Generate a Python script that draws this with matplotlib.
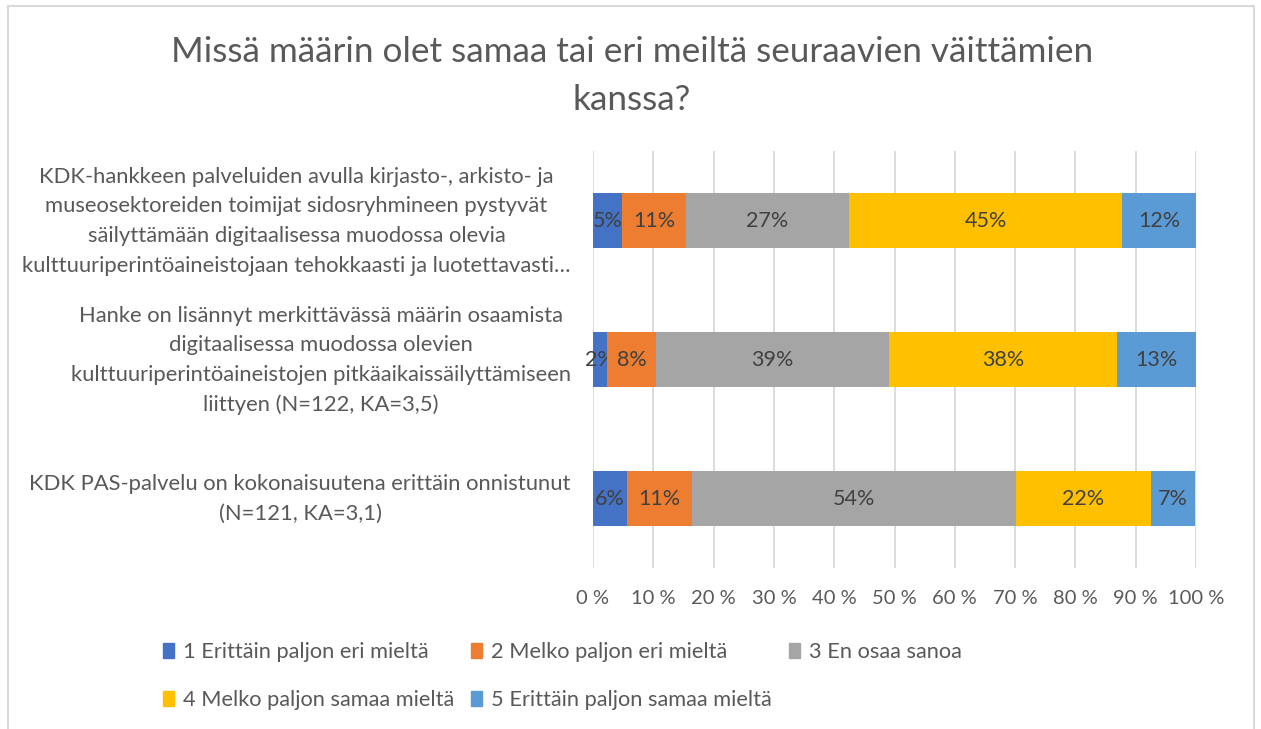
import numpy as np
import matplotlib.pyplot as plt
import matplotlib.transforms as mtransforms
from matplotlib.patches import Patch, Rectangle

plt.rcParams['font.family'] = ['Lato', 'DejaVu Sans']

kysymykset = [
    "KDK-hankkeen palveluiden avulla kirjasto-, arkisto- ja\n"
    "museosektoreiden toimijat sidosryhmineen pystyvät\n"
    "säilyttämään digitaalisessa muodossa olevia\n"
    "kulttuuriperintöaineistojaan tehokkaasti ja luotettavasti…",
    "Hanke on lisännyt merkittävässä määrin osaamista\n"
    "digitaalisessa muodossa olevien\n"
    "kulttuuriperintöaineistojen pitkäaikaissäilyttämiseen\n"
    "liittyen (N=122, KA=3,5)",
    "KDK PAS-palvelu on kokonaisuutena erittäin onnistunut\n"
    "(N=121, KA=3,1)",
]

vastaukset = [
    "1 Erittäin paljon eri mieltä",
    "2 Melko paljon eri mieltä",
    "3 En osaa sanoa",
    "4 Melko paljon samaa mieltä",
    "5 Erittäin paljon samaa mieltä",
]

# osuudet (%) per vastausvaihtoehto, rivit = kysymykset
v1 = [4.8, 2.3, 5.6]
v2 = [10.6, 8.2, 10.8]
v3 = [27.1, 38.6, 53.8]
v4 = [45.2, 37.8, 22.3]
v5 = [12.3, 13.1, 7.4]

varit = ["#4472C4", "#ED7D31", "#A5A5A5", "#FFC000", "#5B9BD5"]

fig = plt.figure(figsize=(12.61, 7.29), dpi=100)
ax = fig.add_axes([593 / 1261, 1 - 568 / 729, 603 / 1261, 417 / 729])

y = np.arange(len(kysymykset))
vasen = np.zeros(len(kysymykset))
for arvot, vari, nimi in zip([v1, v2, v3, v4, v5], varit, vastaukset):
    arvot = np.array(arvot)
    bars = ax.barh(y, arvot, left=vasen, height=0.4, color=vari, label=nimi,
                   zorder=3)
    ax.bar_label(bars, labels=[f"{round(a)}%" for a in arvot], label_type="center",
                 color="#404040", fontsize=15.5)
    vasen += arvot

ax.set_xlim(0, 100)
ax.set_ylim(2.5, -0.5)
ax.set_xticks(np.arange(0, 101, 10))
ax.set_xticklabels([f"{t} %" for t in range(0, 101, 10)])
ax.set_yticks(y)
ax.set_yticklabels(kysymykset)
ax.tick_params(axis="x", length=0, pad=16, labelsize=14.5, labelcolor="#595959")
ax.tick_params(axis="y", length=0, pad=16, labelsize=15.8, labelcolor="#595959")
siirto = mtransforms.ScaledTranslation(0, 6 / 100, fig.dpi_scale_trans)
for lab in ax.get_yticklabels():
    lab.set_multialignment("center")
    lab.set_linespacing(1.6)
    lab.set_transform(lab.get_transform() + siirto)
ax.grid(axis="x", color="#D9D9D9", linewidth=1.3, zorder=0)
for s in ax.spines.values():
    s.set_visible(False)

fig.text(632 / 1261, 1 - 76 / 729,
         "Missä määrin olet samaa tai eri meiltä seuraavien väittämien\nkanssa?",
         ha="center", va="center", fontsize=25.3, color="#595959",
         linespacing=1.6)

kahvat = [Patch(color=c) for c in varit]
jarjestys = [0, 3, 1, 4, 2]
fig.legend([kahvat[i] for i in jarjestys], [vastaukset[i] for i in jarjestys],
           ncol=3, loc="upper left", bbox_to_anchor=(163 / 1261, 1 - 642 / 729),
           frameon=False, fontsize=15.7, labelcolor="#595959",
           handlelength=0.5, handleheight=0.7, handletextpad=0.4,
           columnspacing=0.8, labelspacing=1.3, borderpad=0, borderaxespad=0)

fig.patches.append(Rectangle((8 / 1261, -0.05), 1246 / 1261, 1.05 - 6 / 729,
                             transform=fig.transFigure, fill=False,
                             edgecolor="#D9D9D9", linewidth=1.5))

fig.savefig("out.png", dpi=100)
